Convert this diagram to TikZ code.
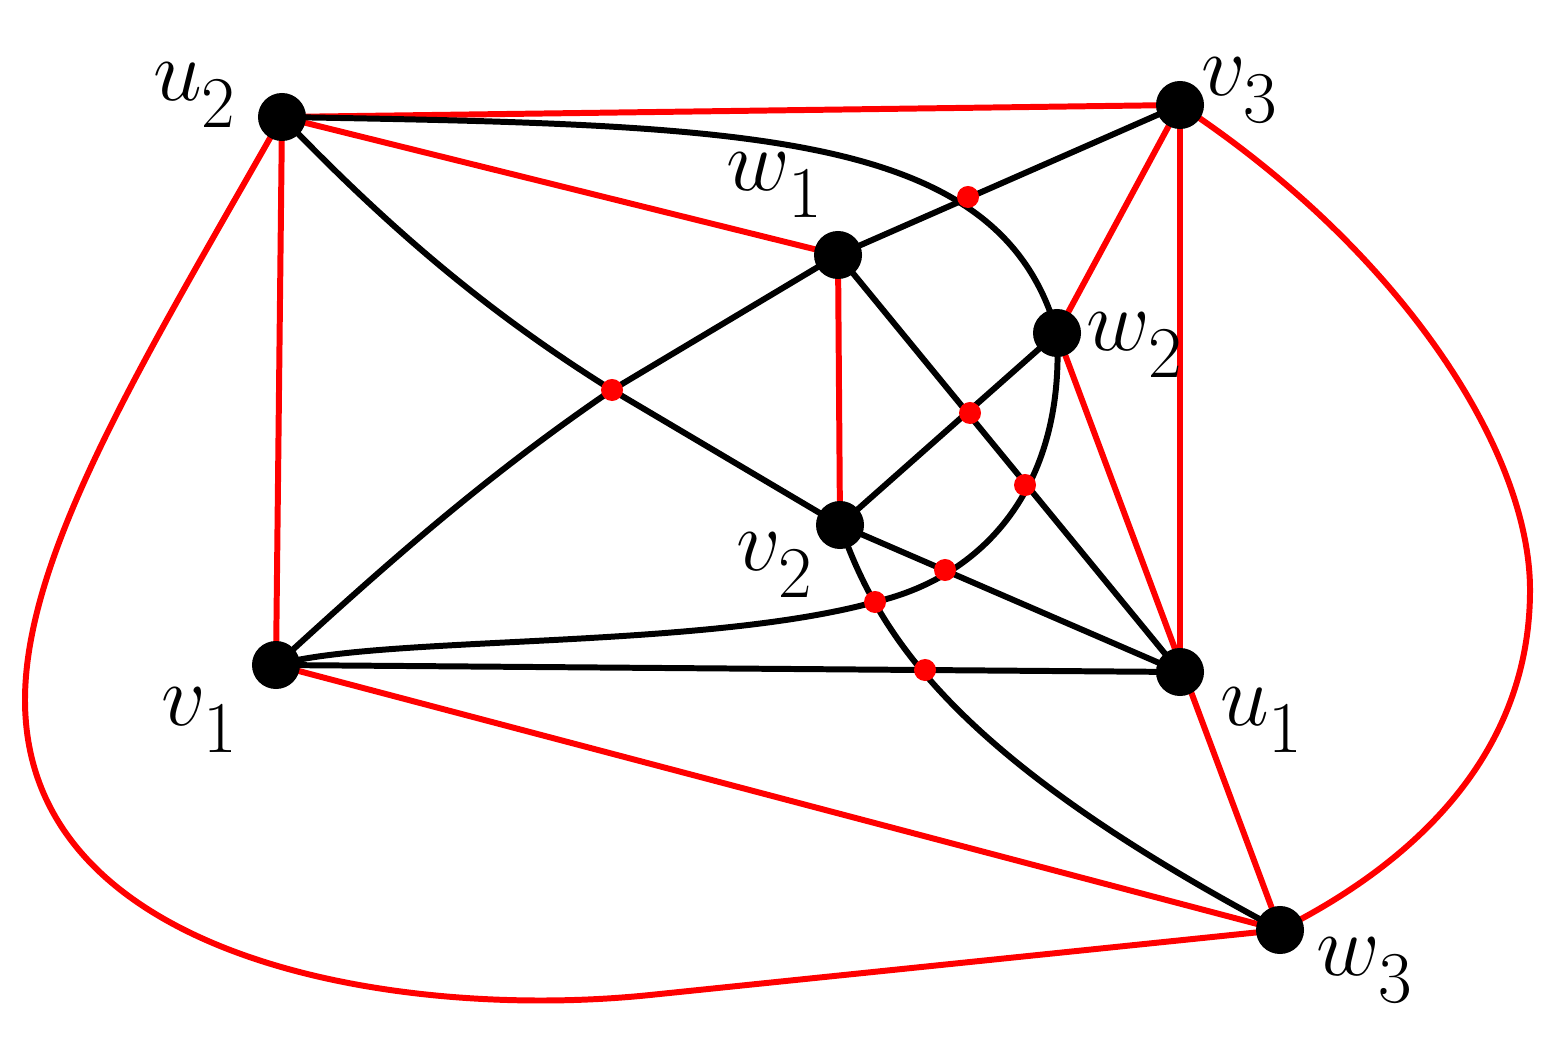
\documentclass[tikz,border=0pt]{standalone}
\begin{document}
\begin{tikzpicture}[x=0.01cm,y=-0.01cm,
  bl/.style={line width=1.7pt,black},
  rd/.style={line width=1.7pt,red},
  vtx/.style={circle,fill=black,inner sep=0pt,minimum size=0.48cm},
  xd/.style={circle,fill=red,inner sep=0pt,minimum size=0.22cm},
  lab/.style={font=\fontsize{30}{36}\selectfont}]
\useasboundingbox (0,0) rectangle (1561,1037);
\coordinate (u2) at (282,117);
\coordinate (v3) at (1180,105);
\coordinate (w1) at (838,255);
\coordinate (w2) at (1057,333);
\coordinate (v2) at (840,525);
\coordinate (v1) at (276,665);
\coordinate (u1) at (1180,672);
\coordinate (w3) at (1280,930);
% red edges
\draw[rd] (u2)--(v3);
\draw[rd] (u2)--(w1);
\draw[rd] (u2)--(v1);
\draw[rd] (v3)--(w2);
\draw[rd] (v3)--(u1);
\draw[rd] (w1)--(v2);
\draw[rd] (w2)--(w3);
\draw[rd] (v1)--(w3);
\draw[rd] (u2) .. controls (150,350) and (25,550) .. (25,700) .. controls (25,960) and (398,1021) .. (650,995) -- (w3);
\draw[rd] (v3) .. controls (1400,250) and (1530,450) .. (1530,590) .. controls (1530,750) and (1420,860) .. (w3);
% black edges
\draw[bl] (u2) .. controls (750,125) and (1000,130) .. (w2);
\draw[bl] (u2) .. controls (400,240) and (500,320) .. (612,390) -- (v2);
\draw[bl] (w1)--(v3);
\draw[bl] (w1)--(612,390) .. controls (480,480) and (380,570) .. (v1);
\draw[bl] (w1)--(u1);
\draw[bl] (w2)--(v2);
\draw[bl] (w2) .. controls (1065,480) and (990,575) .. (875,602) .. controls (700,650) and (380,635) .. (v1);
\draw[bl] (v2)--(u1);
\draw[bl] (v2) .. controls (880,640) and (960,760) .. (w3);
\draw[bl] (v1)--(u1);
% nodes
\foreach \n in {u2,v3,w1,w2,v2,v1,u1,w3} \node[vtx] (n\n) at (\n) {};
\foreach \p in {(968,197),(612,390),(970,413),(1025,485),(945,570),(875,602),(925,670)} \node[xd] at \p {};
\node[lab] (lu2) at (195,95) {$u_{\raisebox{-4pt}{$\scriptstyle 2$}}$};
\node[lab] (lv3) at (1240,90) {$v_{\raisebox{-4pt}{$\scriptstyle 3$}}$};
\node[lab] (lw1) at (775,185) {$w_{\raisebox{-4pt}{$\scriptstyle 1$}}$};
\node[lab] (lw2) at (1135,345) {$w_{\raisebox{-4pt}{$\scriptstyle 2$}}$};
\node[lab] (lv2) at (775,565) {$v_{\raisebox{-4pt}{$\scriptstyle 2$}}$};
\node[lab] (lv1) at (200,720) {$v_{\raisebox{-4pt}{$\scriptstyle 1$}}$};
\node[lab] (lu1) at (1262,720) {$u_{\raisebox{-4pt}{$\scriptstyle 1$}}$};
\node[lab] (lw3) at (1365,970) {$w_{\raisebox{-4pt}{$\scriptstyle 3$}}$};
\end{tikzpicture}
\end{document}
